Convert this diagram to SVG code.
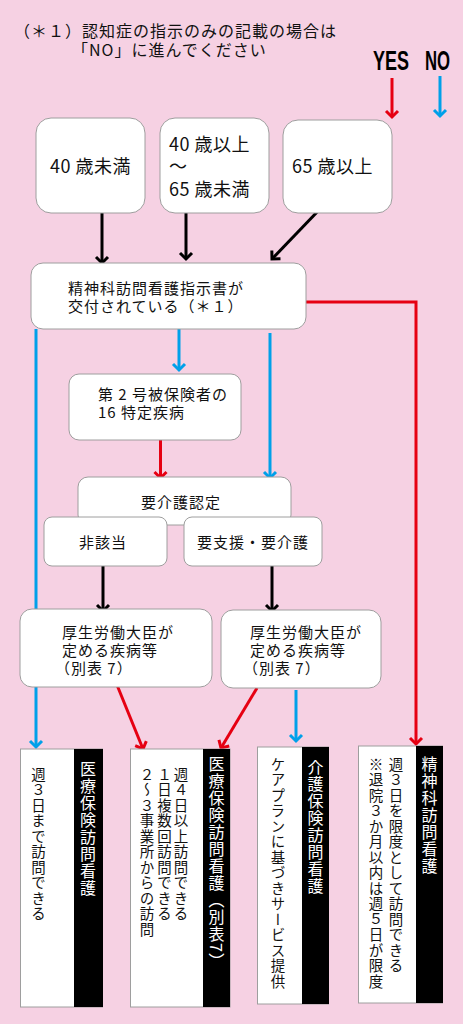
<svg xmlns="http://www.w3.org/2000/svg" width="463" height="1024" viewBox="0 0 463 1024">
<style>
text{font-family:"Noto Sans CJK JP","Noto Sans",sans-serif;fill:#111}
.box{fill:#fff;stroke:#9e9e9e;stroke-width:1}
.t16{font-size:15px;letter-spacing:1px}
.t19{font-size:18px;letter-spacing:0.5px}
.note{font-size:16px;letter-spacing:1px}
.yn{font-family:"Liberation Sans","DejaVu Sans",sans-serif;font-weight:bold;font-size:27px;fill:#000}
.v{writing-mode:vertical-rl}
.vt{font-size:16px;letter-spacing:1px;fill:#fff}
.vb{font-size:14.5px;letter-spacing:1px}
.strip{fill:#000}
.k{stroke:#000;stroke-width:3;fill:none}
.r{stroke:#e60012;stroke-width:3;fill:none}
.b{stroke:#00a0e9;stroke-width:3;fill:none}
</style>
<defs>
<marker id="ak" viewBox="0 0 8 14" refX="6.5" refY="7" markerWidth="8" markerHeight="14" markerUnits="userSpaceOnUse" orient="auto" overflow="visible"><path d="M0.5,1 L6.5,7 L0.5,13" fill="none" stroke="#000" stroke-width="3"/></marker>
<marker id="ar" viewBox="0 0 8 14" refX="6.5" refY="7" markerWidth="8" markerHeight="14" markerUnits="userSpaceOnUse" orient="auto" overflow="visible"><path d="M0.5,1 L6.5,7 L0.5,13" fill="none" stroke="#e60012" stroke-width="3"/></marker>
<marker id="ab" viewBox="0 0 8 14" refX="6.5" refY="7" markerWidth="8" markerHeight="14" markerUnits="userSpaceOnUse" orient="auto" overflow="visible"><path d="M0.5,1 L6.5,7 L0.5,13" fill="none" stroke="#00a0e9" stroke-width="3"/></marker>
</defs>
<rect x="0" y="0" width="463" height="1024" fill="#f6d1e3"/>

<g id="note">
<text class="note" x="14" y="37">（＊１）認知症の指示のみの記載の場合は<tspan x="72" dy="19">「NO」に進んでください</tspan></text>
</g>

<g id="legend">
<text class="yn" transform="translate(373,70) scale(0.667,1)">YES</text>
<text class="yn" transform="translate(425,70) scale(0.62,1)">NO</text>
</g>

<g id="connectors">
<line class="r" x1="392" y1="78" x2="392" y2="117" marker-end="url(#ar)"/>
<line class="b" x1="440" y1="76" x2="440" y2="116" marker-end="url(#ab)"/>
<line class="k" x1="102" y1="213" x2="102" y2="263" marker-end="url(#ak)"/>
<line class="k" x1="186" y1="213" x2="186" y2="259" marker-end="url(#ak)"/>
<line class="k" x1="320" y1="209" x2="272" y2="259" marker-end="url(#ak)"/>
<polyline class="r" points="300,302 416,302 416,744" marker-end="url(#ar)"/>
<line class="b" x1="36" y1="329" x2="36" y2="747" marker-end="url(#ab)"/>
<line class="b" x1="179" y1="329" x2="179" y2="370" marker-end="url(#ab)"/>
<line class="b" x1="270" y1="333" x2="270" y2="478" marker-end="url(#ab)"/>
<line class="r" x1="160.5" y1="437" x2="160.5" y2="478" marker-end="url(#ar)"/>
<line class="k" x1="103" y1="566" x2="103" y2="611" marker-end="url(#ak)"/>
<line class="k" x1="272" y1="565" x2="272" y2="611" marker-end="url(#ak)"/>
<line class="r" x1="117" y1="685" x2="143" y2="749" marker-end="url(#ar)"/>
<line class="r" x1="257" y1="688" x2="221" y2="748" marker-end="url(#ar)"/>
<line class="b" x1="296" y1="690" x2="296" y2="741" marker-end="url(#ab)"/>
</g>

<g id="age-under40">
<rect class="box" x="36" y="118" width="109" height="95" rx="15"/>
<text class="t19" x="90.5" y="173" text-anchor="middle">40 歳未満</text>
</g>
<g id="age-40-65">
<rect class="box" x="160" y="118" width="109" height="95" rx="15"/>
<text class="t19" x="169" y="151">40 歳以上<tspan x="169" dy="22">～</tspan><tspan x="169" dy="23">65 歳未満</tspan></text>
</g>
<g id="age-65">
<rect class="box" x="283" y="120" width="109" height="93" rx="15"/>
<text class="t19" x="292" y="173">65 歳以上</text>
</g>

<g id="psych-order">
<rect class="box" x="31" y="263" width="275" height="66" rx="12"/>
<text class="t16" x="68" y="294">精神科訪問看護指示書が<tspan x="68" dy="18">交付されている（＊１）</tspan></text>
</g>

<g id="specific-disease">
<rect class="box" x="69" y="374" width="172" height="66" rx="10"/>
<text class="t16" x="98" y="400">第 2 号被保険者の<tspan x="98" dy="18">16 特定疾病</tspan></text>
</g>

<g id="care-cert">
<rect class="box" x="78" y="477" width="213" height="48" rx="10"/>
<text class="t16" x="181" y="508" text-anchor="middle">要介護認定</text>
</g>
<g id="not-applicable">
<rect class="box" x="44" y="517" width="123" height="49" rx="8"/>
<text class="t16" x="103" y="548" text-anchor="middle">非該当</text>
</g>
<g id="support-care">
<rect class="box" x="184" y="517" width="138" height="49" rx="8"/>
<text class="t16" x="253" y="548" text-anchor="middle">要支援・要介護</text>
</g>

<g id="minister-a">
<rect class="box" x="20" y="609" width="192" height="78" rx="12"/>
<text class="t16" x="62" y="638">厚生労働大臣が<tspan x="62" dy="18">定める疾病等</tspan><tspan x="55" dy="18">（別表 7）</tspan></text>
</g>
<g id="minister-b">
<rect class="box" x="221" y="610" width="160" height="78" rx="12"/>
<text class="t16" x="250" y="638">厚生労働大臣が<tspan x="250" dy="18">定める疾病等</tspan><tspan x="243" dy="18">（別表 7）</tspan></text>
</g>

<g id="result-medical">
<rect class="box" x="20.5" y="749" width="82" height="258"/>
<rect class="strip" x="74" y="749" width="29" height="258"/>
<text class="v vt" x="88" y="761">医療保険訪問看護</text>
<text class="v vb" x="38.5" y="767">週３日まで訪問できる</text>
</g>
<g id="result-medical-7">
<rect class="box" x="130.5" y="749" width="99.5" height="258"/>
<rect class="strip" x="203" y="749" width="27" height="258"/>
<text class="v vt" x="216.5" y="756">医療保険訪問看護（別表7）</text>
<text class="v vb" x="181" y="767">週４日以上訪問できる<tspan x="164.5" y="767">１日複数回訪問できる</tspan><tspan x="147" y="767">２～３事業所からの訪問</tspan></text>
</g>
<g id="result-care">
<rect class="box" x="257.5" y="747" width="71" height="257"/>
<rect class="strip" x="302" y="747" width="27" height="257"/>
<text class="v vt" x="315.5" y="759">介護保険訪問看護</text>
<text class="v vb" x="278" y="757">ケアプランに基づきサービス提供</text>
</g>
<g id="result-psych">
<rect class="box" x="358.5" y="746" width="84" height="257"/>
<rect class="strip" x="416" y="746" width="27" height="257"/>
<text class="v vt" x="429.5" y="756">精神科訪問看護</text>
<text class="v vb" x="396" y="757">週３日を限度として訪問できる<tspan x="376" y="757">※退院３か月以内は週５日が限度</tspan></text>
</g>
</svg>
